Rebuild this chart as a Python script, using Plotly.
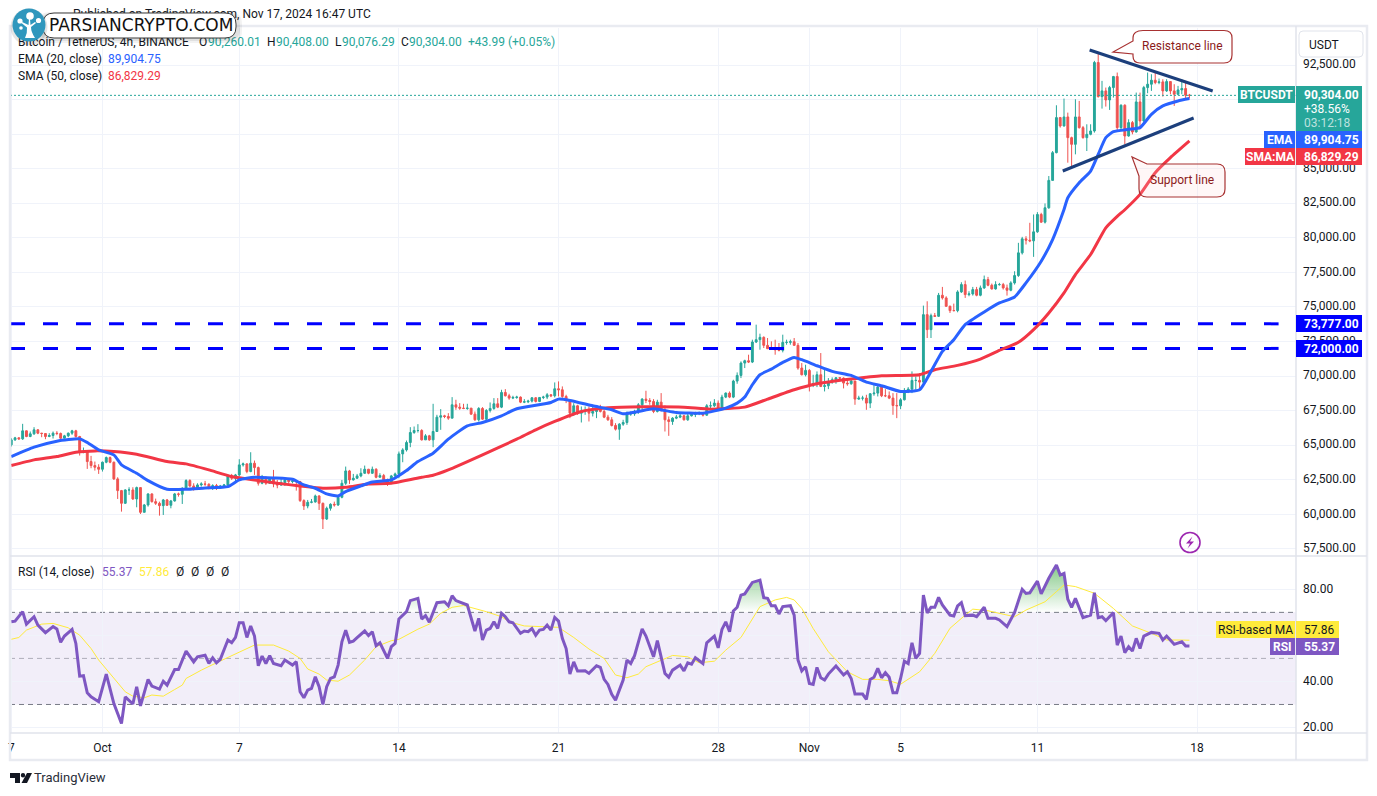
import plotly.graph_objects as go
import pandas as pd
import numpy as np

FONT = "Roboto, sans-serif"
UP, DOWN = "#26a69a", "#ef5350"
BLUE, RED = "#2962ff", "#f23645"
PURPLE, YELLOW = "#7e57c2", "#ffeb3b"
INK = "#131722"
GRID = "#f0f3fa"

closes_a = [65385,65530,65457,66037,65627,65820,66110,65868,65844,65627,65699,65868,65844,65506,65675,65868,66037,65627,64467,64540,
63815,63525,63405,63260,63767,64105,63767,62560,61714,60797,61762,61762,61110,61932,60145,60676,61473,60917,60797,60627,
61038,60652,60966,61473,61449,61883,62439,62052,61811,62125,62197,62173,61883,62077,61883,62052,62125,62777,62608,62849,
63574,63646,63091,63695,63380,62245,62680,62245,62608,62197,62125,62294,62487,62366,62415,62366,
60990,60603,60869,60893,61328,60797,59661,60434,60724,60676,61231,62245,63139,62487,62608,62777,62970,63260,62970,63260,
62680,62801,62487,62245,62777,62922,64371,64660,65192,65916,66061,66061,65385,65675,65385,65989,67027,67124,67075,66955]
highs_a = [65506,65602,65578,66544,66061,65989,66303,66158,65892,65868,65868,65989,66013,65916,65747,65916,66110,66110,65675,64830,
64588,64226,63815,63622,63815,64178,64178,63815,62680,61762,61811,61956,61956,62004,61932,60748,61521,61521,61135,60917,
61110,61110,61038,61545,61569,61956,62535,62535,62245,62245,62318,62415,62245,62173,62197,62125,62197,62873,62922,62922,
63984,63743,63695,64491,63888,63453,62849,62729,62680,63212,62487,62608,62608,62608,62560,62439,
62415,61086,61038,61110,61424,61376,60845,60555,60797,60917,61400,62487,63453,63212,62922,62922,63332,63525,63284,63453,
63332,62970,62922,62584,62849,63018,64540,64781,65337,66303,66351,66520,66158,65796,65747,67993,67196,67607,67196,67317]
lows_a = [64902,65313,65385,65385,65578,65578,65747,65796,65578,65433,65578,65482,65723,65385,65482,65578,65747,65554,64250,64419,
63284,63332,63163,62922,63091,63695,63695,62487,61110,60193,60748,61400,61038,60507,60024,60145,60555,60845,60676,59903,
59951,60603,60434,60917,61280,60748,61762,61956,61714,61762,62004,62052,61811,61762,61762,61859,61907,62052,62487,62318,
62729,63453,62970,63043,62849,62077,62173,62125,62197,61956,61883,62052,62052,62197,62245,61714,
60893,60314,60434,60797,60845,60314,58937,59589,60265,60555,60603,61159,62125,62197,62439,62560,62680,62922,62898,62922,
62608,62680,62366,62052,62197,62608,62608,63767,64540,64854,65820,65916,65337,65385,65313,64854,65989,66110,66955,66834]

closes_b = [67921,67752,67680,67656,67680,67245,66835,67656,66883,67511,67656,67994,67752,68815,68573,68404,68453,68477,68114,68139,
68187,68428,68163,68453,68477,68646,68573,69080,69008,68525,68235,67317,67849,67317,67438,67462,67317,67438,67680,67438,
67028,66835,66424,66158,66521,66641,67269,67269,67438,67921,68332,68235,68163,67438,68114,67559,66835,66714,66955,67028,
67124,66835,67124,67221,67317,67342,67173,67849,67849,68042,67680,68477,68767,68477,69636,70046,70940,71109,71012,72461,
72631,72800,72220,71978,71954,71906,71858,72437,72437,72486,72220,70578,70095,70409,69370,69443,70095,69250,69298,69612,
69733,69877,69853,69491,69443,69636,68332,68404,68404,68042,68718,68767,69201,68573,68573,68404,67873,67849,68284,68960,
69056,69684,69684,69563]
highs_b = [68477,68284,68042,67994,67994,67631,67438,67752,67752,67607,68090,68404,68404,69008,69056,68718,68573,68573,68525,68332,
68284,68477,68477,68477,68573,68767,68694,69539,69612,69250,68646,68284,68042,67921,67801,67801,67801,67801,67801,67921,
67559,67197,67028,66593,66593,66835,67438,67438,67559,68042,68404,68936,68404,68332,68284,68767,67873,67076,67028,67197,
67269,67197,67269,67317,67414,67438,67366,67970,68163,68332,68235,68646,68815,68887,69733,70264,71061,71182,71544,72631,
73717,73065,72872,72751,72510,72631,72389,72993,72631,72631,72751,72389,70940,70819,70505,70095,70336,71665,70578,69853,
69902,69926,69902,69902,69853,69781,69539,68573,68573,68646,68767,69370,69443,69298,69056,68887,68767,68767,68404,69129,
69201,70336,69974,70215]
lows_b = [66955,67559,67559,67607,67559,67197,66762,66714,66835,66786,67366,67559,67680,67680,68525,68284,68332,68356,68042,68042,
68042,68090,68090,68114,68332,68332,68477,68453,68525,68428,68042,66955,67124,67197,66641,67197,66714,67076,66955,67366,
66955,66762,66352,66062,65386,66400,66472,67124,67124,67269,67559,68042,67921,67317,67366,67438,65989,65675,66472,66883,
66955,66786,66762,67076,67028,67173,67076,67124,67680,67752,67511,67607,68404,68404,68404,69443,69853,70578,70940,70940,
72389,71906,72027,71954,71906,71544,71785,71713,72268,72268,72196,70457,70046,69974,68887,69201,69201,69201,68887,69056,
69443,69443,69733,69105,69298,69370,67921,68284,68235,67559,67680,68573,68525,68477,68477,68332,67197,66955,67607,68235,
68767,68767,69008,69008]

closes_c = [74443,73357,74371,74323,75844,75651,75047,74733,74733,76085,76617,75892,75941,76255,75844,76375,76979,76568,76303,76617,
76617,76375,76206,76738,77269,78911,79925,79829,79780,80432,81688,81133,82171,84153,86158,88694,88090,88742,87245,86762,
88742,87969,87245,87486,87728,92679,90215,90626,89974,90867,91664,87969,89587,87365,88332,87655,89829,88452,90867,91109,
91399,91230,91278,90626,91302,90626,90384,90698,90795,90312,90304]
highs_c = [75095,75409,74516,74564,76013,76448,75771,75095,75240,76206,76786,76907,76134,76448,76448,76544,77269,77172,76689,76858,
76738,76738,76617,76858,77583,79636,80070,80119,81085,81688,81857,81809,82485,84468,86279,89587,88742,90070,89056,87317,
90022,89901,88090,88211,88211,92799,93451,91350,90867,90988,91713,91954,89660,89660,88573,88452,90505,90505,90988,91954,
91833,91954,91519,91471,91471,91302,91109,90988,91471,91350,90408]
lows_c = [69372,72753,72753,74274,74274,75530,74999,74564,74685,74612,76013,75651,75771,75820,75771,75771,76303,76496,76255,76255,
76544,76255,75820,76134,76617,77172,78790,79515,79684,78621,80360,81085,81036,82099,84153,86110,87969,88042,85434,85192,
86037,87897,87172,86279,87414,87607,90143,89346,89491,89249,90143,87728,87849,86762,87317,87486,87607,87849,88380,90457,
90626,91109,91109,90215,90553,90384,89539,90312,90384,90022,90076]

first_open = 65023
closes = closes_a + closes_b + closes_c
highs = highs_a + highs_b + highs_c
lows = lows_a + lows_b + lows_c

ema_index = [0,6,12,18,20,23,27,29,33,36,41,46,51,57,60,64,69,74,77,80,83,86,88,92,95,100,104,107,111,115,120,124,129,133,142,144,147,153,158,161,165,169,175,182,188,191,193,195,197,200,203,206,208,212,216,221,225,229,234,239,242,245,248,251,256,260,264,267,271,274,277,278,281,284,286,288,290,294,297,300,303,307,310]
ema_values = [64178,64854,65288,65457,65192,64660,64298,63574,62970,62439,61811,61811,61907,62004,62487,62680,62632,62535,62125,61883,61473,61328,61642,62052,62342,62487,63163,63815,64419,65433,66400,66641,67124,67632,68090,68332,68235,67849,67559,67269,67438,67632,67366,67317,67680,68042,68477,69370,70095,70505,70988,71351,71182,70747,70336,70046,69563,69298,68887,69008,70338,71787,72632,73719,74636,75289,75723,76738,78307,79877,82051,82898,83984,84830,86037,87245,87680,87849,87969,88935,89539,89901,90070]
sma_index = [0,6,12,17,22,27,33,41,46,52,58,64,70,76,82,88,94,100,108,111,115,124,133,138,143,150,157,166,177,184,193,199,206,212,221,229,239,243,249,255,260,265,269,273,277,280,284,288,291,293,297,301,305,310]
sma_values = [63525,63936,64178,64491,64588,64540,64347,63815,63646,63212,62729,62487,62245,62052,61883,61956,62197,62245,62680,62825,63212,64300,65434,66110,66714,67438,67704,67776,67752,67607,67752,68332,69008,69443,69781,70022,70096,70459,70772,71231,71859,72439,73357,74564,76013,77341,78790,80722,81550,82030,83139,84709,85796,87003]

rsi_index = [0,1,3,4,6,7,9,11,12,13,14,16,17,18,19,20,21,23,25,27,29,30,32,33,34,36,37,39,40,41,43,44,46,48,49,51,52,53,54,55,57,58,59,60,61,62,63,64,65,66,67,68,69,71,72,74,75,76,77,78,79,80,81,82,83,84,85,86,87,88,89,90,91,93,94,95,96,97,99,100,101,102,104,105,107,108,109,110,112,114,115,116,117,119,120,122,123,124,125,126,127,128,129,130,131,132,134,135,136,137,138,139,140,141,142,143,144,145,146,147,148,149,151,152,154,155,156,157,158,159,161,162,163,164,166,167,169,170,171,172,173,174,176,177,178,179,180,182,183,185,186,187,188,189,190,191,192,193,195,197,198,199,200,201,202,203,205,206,207,208,209,210,211,212,213,214,215,217,219,220,221,222,224,225,226,227,228,229,230,231,232,233,234,235,236,237,238,239,240,241,242,243,244,245,247,248,249,250,251,253,254,256,257,259,260,262,264,266,267,268,270,271,273,275,276,277,278,279,280,282,284,285,286,287,288,290,291,292,293,294,295,296,297,298,300,302,303,304,306,308,309,310]
rsi_values = [65.9,66.2,70.3,64.9,68.1,64.5,61.2,63.8,62.8,57.0,59.7,62.6,56.5,42.3,42.5,35.1,33.3,31.2,43.2,30.4,21.7,33.3,30.2,37.7,29.4,40.9,38.0,36.7,40.1,38.4,45.2,45.2,53.2,48.5,50.7,51.4,47.8,50.3,48.1,49.6,58.0,56.8,59.1,65.5,65.5,59.1,64.1,59.7,46.8,51.0,47.8,51.2,47.8,46.8,49.3,47.1,48.6,35.5,32.9,36.2,37.0,42.0,37.7,30.0,37.7,41.3,42.0,47.1,57.2,62.3,57.0,57.5,59.0,61.9,59.9,61.6,55.5,56.8,50.0,55.1,56.5,67.1,70.3,75.1,76.1,67.1,68.6,65.7,74.2,74.6,72.9,77.2,75.1,73.6,73.2,61.9,67.4,58.0,62.3,63.0,65.9,63.0,69.6,68.1,65.9,65.5,60.9,61.9,61.6,63.0,60.1,62.3,62.6,64.5,62.3,67.8,66.2,58.7,54.3,43.2,48.5,44.5,44.6,43.5,46.8,46.1,40.9,38.7,34.4,31.9,40.6,49.3,47.8,51.2,62.8,59.7,50.7,57.7,50.7,43.5,41.8,44.9,47.1,44.6,48.1,47.5,50.3,47.8,56.8,59.7,54.6,62.6,65.9,61.6,70.6,72.2,77.5,78.0,83.0,84.0,76.4,76.1,72.9,72.9,69.3,72.5,72.9,68.8,49.3,44.6,46.4,39.1,38.7,46.1,41.6,40.6,43.2,46.7,42.8,44.2,41.3,34.5,34.5,32.2,40.9,41.8,45.7,41.6,43.8,41.8,35.1,35.1,41.3,48.8,47.8,56.8,50.0,52.2,77.5,69.8,72.2,72.2,76.5,73.2,68.8,68.4,72.8,74.2,68.6,68.8,68.1,72.2,67.4,67.4,66.7,63.8,70.0,80.0,78.2,78.5,83.6,78.0,84.8,90.6,86.2,86.9,75.7,72.2,76.1,67.7,68.8,78.5,67.7,68.1,66.4,69.9,55.8,59.7,52.5,55.1,53.2,58.7,54.3,59.7,61.3,60.9,58.0,59.7,56.1,57.2,55.4,55.37]
rsi_ma_index = [0,2,4,8,11,15,18,21,23,26,30,32,35,37,40,43,45,46,50,54,59,64,69,73,76,78,81,83,86,89,93,96,100,102,107,110,113,116,119,122,125,129,131,135,140,144,148,152,156,159,162,165,167,171,174,178,181,185,188,192,195,197,201,204,206,208,211,215,220,224,228,231,234,239,243,247,251,253,257,260,264,267,272,275,277,280,285,290,295,300,304,307,310]
rsi_ma_values = [58.3,59.1,62.3,64.9,65.2,63.3,60.1,54.3,49.3,43.5,35.5,33.6,32.9,34.1,33.6,36.5,38.4,41.3,44.9,48.1,51.9,55.8,55.8,53.2,50.0,45.4,43.2,40.6,40.1,42.8,49.3,55.1,57.7,58.3,62.7,64.9,69.6,72.2,73.0,71.7,70.3,68.1,65.9,64.1,63.8,63.5,59.1,54.1,50.0,42.8,41.6,43.2,46.4,49.3,51.3,50.7,48.1,48.8,53.6,59.1,67.4,72.5,75.4,76.5,75.4,71.7,63.0,52.9,44.2,40.9,40.9,40.3,38.8,44.2,52.2,63.1,68.8,71.4,70.7,69.6,68.1,71.0,74.6,79.0,81.9,81.2,78.3,71.7,64.1,60.9,58.0,58.0,57.9]

price_levels = [73777, 72000]
resistance_x = ["2024-11-13 06:58", "2024-11-18 16:30"]
resistance_y = [93584, 90618]
support_x = ["2024-11-12 02:40", "2024-11-17 20:24"]
support_y = [84832, 88666]
last_price = 90304
price_ticks = [57500,60000,62500,65000,67500,70000,72500,75000,77500,80000,82500,85000,87500,90000,92500]
price_tick_labels = ["57,500.00","60,000.00","62,500.00","65,000.00","67,500.00","70,000.00","72,500.00","75,000.00","77,500.00","80,000.00","82,500.00","85,000.00","","","92,500.00"]
rsi_ticks = [20, 40, 60, 80]
rsi_tick_labels = ["20.00", "40.00", "", "80.00"]
date_ticks = ["2024-09-27","2024-10-01","2024-10-07","2024-10-14","2024-10-21","2024-10-28","2024-11-01","2024-11-05","2024-11-11","2024-11-18"]
date_labels = ["7","Oct","7","14","21","28","Nov","5","11","18"]

X_LEFT, X_RIGHT, X_DASH_END = "2024-09-26 22:41", "2024-11-22 08:10", "2024-11-21 13:50"
W, H = 1377, 796

times = pd.date_range("2024-09-27 00:00", periods=len(closes), freq="4h")
opens = [first_open] + closes[:-1]
highs_c2 = np.maximum(np.maximum(highs, closes), opens).tolist()
lows_c2 = np.minimum(np.minimum(lows, closes), opens).tolist()

fig = go.Figure()

# ---- price pane ----
fig.add_trace(go.Candlestick(x=times, open=opens, high=highs_c2, low=lows_c2, close=closes,
    xaxis="x", yaxis="y", whiskerwidth=0, hoverinfo="skip",
    increasing=dict(line=dict(color=UP, width=1), fillcolor=UP),
    decreasing=dict(line=dict(color=DOWN, width=1), fillcolor=DOWN), showlegend=False))
for lv in price_levels:
    fig.add_trace(go.Scatter(x=[X_LEFT, X_DASH_END], y=[lv, lv], mode="lines", xaxis="x", yaxis="y",
        line=dict(color="#0000ff", width=3, dash="15px,18px"), hoverinfo="skip", showlegend=False))
fig.add_trace(go.Scatter(x=[X_LEFT, X_RIGHT], y=[last_price, last_price], mode="lines", xaxis="x", yaxis="y",
    line=dict(color=UP, width=1, dash="2px,2px"), hoverinfo="skip", showlegend=False))
fig.add_trace(go.Scatter(x=times[sma_index], y=sma_values, mode="lines", xaxis="x", yaxis="y",
    line=dict(color=RED, width=3, shape="spline", smoothing=0.5), hoverinfo="skip", showlegend=False))
fig.add_trace(go.Scatter(x=times[ema_index], y=ema_values, mode="lines", xaxis="x", yaxis="y",
    line=dict(color=BLUE, width=3, shape="spline", smoothing=0.5), hoverinfo="skip", showlegend=False))
for xs, ys in ((resistance_x, resistance_y), (support_x, support_y)):
    fig.add_trace(go.Scatter(x=xs, y=ys, mode="lines", xaxis="x", yaxis="y",
        line=dict(color="#1c3f7c", width=3), hoverinfo="skip", showlegend=False))

# ---- RSI pane ----
rsi_times = times[rsi_index]
rsi_over = np.maximum(rsi_values, 70).tolist()
fig.add_trace(go.Scatter(x=rsi_times, y=[70] * len(rsi_index), mode="lines", xaxis="x2", yaxis="y2",
    line=dict(width=0), hoverinfo="skip", showlegend=False))
fig.add_trace(go.Scatter(x=rsi_times, y=rsi_over, mode="lines", xaxis="x2", yaxis="y2", fill="tonexty",
    line=dict(width=0), hoverinfo="skip", showlegend=False,
    fillgradient=dict(type="vertical", start=70, stop=88,
                      colorscale=[[0, "rgba(76,175,80,0)"], [1, "rgba(76,175,80,0.6)"]])))
fig.add_trace(go.Scatter(x=times[rsi_ma_index], y=rsi_ma_values, mode="lines", xaxis="x2", yaxis="y2",
    line=dict(color=YELLOW, width=1), hoverinfo="skip", showlegend=False))
fig.add_trace(go.Scatter(x=rsi_times, y=rsi_values, mode="lines", xaxis="x2", yaxis="y2",
    line=dict(color=PURPLE, width=3), hoverinfo="skip", showlegend=False))

# ---- text beneath the logo and legend rows (pixel overlay axes) ----
legend_bits = [
    (73, 15, "Published on TradingView.com, Nov 17, 2024 16:47 UTC", INK, 12),
    (18, 43, "Bitcoin / TetherUS, 4h, BINANCE", INK, 12),
    (199, 43, "O", INK, 12), (208, 43, "90,260.01", UP, 12),
    (267, 43, "H", INK, 12), (276, 43, "90,408.00", UP, 12),
    (335, 43, "L", INK, 12), (342, 43, "90,076.29", UP, 12),
    (401, 43, "C", INK, 12), (409, 43, "90,304.00", UP, 12),
    (468, 43, "+43.99 (+0.05%)", UP, 12),
    (18, 60, "EMA (20, close)", INK, 12), (108, 60, "89,904.75", BLUE, 12),
    (18, 77, "SMA (50, close)", INK, 12), (108, 77, "86,829.29", RED, 12),
    (18, 573, "RSI (14, close)", INK, 12), (102, 573, "55.37", PURPLE, 12), (139, 573, "57.86", YELLOW, 12),
    (176, 573, "Ø", INK, 12), (191, 573, "Ø", INK, 12), (206, 573, "Ø", INK, 12), (221, 573, "Ø", INK, 12),
    (34, 779, "TradingView", "#2a2e39", 13),
]
fig.add_trace(go.Scatter(x=[b[0] for b in legend_bits], y=[b[1] for b in legend_bits],
    text=[b[2] for b in legend_bits], mode="text", textposition="middle right",
    textfont=dict(family=FONT, size=[b[4] for b in legend_bits], color=[b[3] for b in legend_bits]),
    xaxis="x3", yaxis="y3", hoverinfo="skip", showlegend=False, cliponaxis=False))

shapes = []
def rect(x0, y0, x1, y1, fill, line="rgba(0,0,0,0)", lw=0):
    shapes.append(dict(type="rect", xref="x3", yref="y3", x0=x0, y0=y0, x1=x1, y1=y1,
                       fillcolor=fill, line=dict(color=line, width=lw), layer="above"))
def path(d, fill="rgba(0,0,0,0)", line="rgba(0,0,0,0)", lw=0):
    shapes.append(dict(type="path", xref="x3", yref="y3", path=d, fillcolor=fill,
                       line=dict(color=line, width=lw), layer="above"))
def rrect(x0, y0, x1, y1, r):
    return (f"M{x0+r},{y0} L{x1-r},{y0} Q{x1},{y0} {x1},{y0+r} L{x1},{y1-r} Q{x1},{y1} {x1-r},{y1} "
            f"L{x0+r},{y1} Q{x0},{y1} {x0},{y1-r} L{x0},{y0+r} Q{x0},{y0} {x0+r},{y0} Z")
def circle(cx, cy, r, fill="rgba(0,0,0,0)", line="rgba(0,0,0,0)", lw=0):
    shapes.append(dict(type="circle", xref="x3", yref="y3", x0=cx-r, y0=cy-r, x1=cx+r, y1=cy+r,
                       fillcolor=fill, line=dict(color=line, width=lw), layer="above"))

# RSI band and guide lines
shapes.append(dict(type="rect", xref="x2", yref="y2", x0=X_LEFT, x1=X_RIGHT, y0=30, y1=70,
                   fillcolor="rgba(126,87,194,0.1)", line=dict(width=0), layer="below"))
for lv, col in ((70, "#787b86"), (50, "rgba(120,123,134,0.55)"), (30, "#787b86")):
    shapes.append(dict(type="line", xref="x2", yref="y2", x0=X_LEFT, x1=X_RIGHT, y0=lv, y1=lv,
                       line=dict(color=col, width=1, dash="5px,4px"), layer="below"))

# frame
FRAME = "#e9ebf1"
rect(10, 26, 1367, 760, "rgba(0,0,0,0)", FRAME, 2.5)
for x0, y0, x1, y1 in ((10, 556, 1367, 556), (10, 733, 1367, 733), (1296, 26, 1296, 760)):
    shapes.append(dict(type="line", xref="x3", yref="y3", x0=x0, y0=y0, x1=x1, y1=y1,
                       line=dict(color="#e0e3eb", width=1.5), layer="above"))

# right-hand price tags
rect(1238, 86, 1295, 103, UP); rect(1296, 86, 1362, 131, UP)
rect(1264, 131, 1295, 148, BLUE); rect(1296, 131, 1362, 148, BLUE)
rect(1245, 148, 1295, 165, RED); rect(1296, 148, 1362, 165, RED)
rect(1296, 315, 1362, 332, "#0000ff"); rect(1296, 340, 1362, 357, "#0000ff")
rect(1216, 621, 1295, 638, YELLOW); rect(1296, 621, 1339, 638, YELLOW)
rect(1270, 638, 1295, 655, PURPLE); rect(1296, 638, 1339, 655, PURPLE)
path(rrect(1299, 31, 1363, 57, 4), "#ffffff", "#e0e3eb", 1)

# callouts
STROKE = "#a83232"
path("M1143,30.5 L1224,30.5 Q1232,30.5 1232,38 L1232,55 Q1232,63 1224,63 L1140,63 Q1133,63 1133,56 "
     "L1133,54 L1113,52 L1133,41 L1133,38 Q1133,30.5 1143,30.5 Z", "rgba(255,255,255,0.9)", STROKE, 1.2)
path("M1150,164 L1217,164 Q1225,164 1225,172 L1225,189 Q1225,197 1217,197 L1147,197 Q1139,197 1139,189 "
     "L1139,176 L1132,157 L1147,164 Z", "rgba(255,210,210,0.18)", STROKE, 1.2)

# bolt badge
circle(1190, 542.5, 10, "rgba(255,255,255,0)", "#9c27b0", 1.6)
path("M1192.5,536.5 L1186,543.5 L1190,543.5 L1187.5,548.5 L1194,541.5 L1190,541.5 Z", "#9c27b0")

# TradingView mark
path("M10,773 L20,773 L20,783 L15,783 L15,778 L10,778 Z", "#131722")
circle(23, 775.3, 2.2, "#131722")
path("M27,773 L32,773 L27,783 L21.5,783 Z", "#131722")

# watermark
path(rrect(38, 12, 242, 43, 12), "rgba(0,0,0,0.05)")
path(rrect(40, 13, 240, 41, 12), "rgba(0,0,0,0.07)")
path(rrect(43, 13, 236, 38, 11), "#ffffff", "#3c3c3c", 1)
circle(29, 27, 18.5, "rgba(0,0,0,0.10)")
circle(29, 25, 16.5, "#2f97bd")
circle(30, 16, 3.8, "#ffffff"); circle(20, 21, 2.6, "#ffffff"); circle(38.5, 20.5, 2.6, "#ffffff"); circle(21, 28, 1.8, "#ffffff")
path("M25,38 L35,38 Q31,32 31,27 L36,23 L35,22 L30.5,25 L30,19 L29,19 L28.5,25 L22,22 L21.5,23 L27,27.5 Q27.5,33 25,38 Z", "#ffffff")

annotations = []
def note(x, y, text, color="#ffffff", size=12, anchor="left", bold=False):
    annotations.append(dict(xref="x3", yref="y3", x=x, y=y, text=f"<b>{text}</b>" if bold else text,
        showarrow=False, xanchor=anchor, yanchor="middle", align=anchor, borderpad=0,
        font=dict(family=FONT, size=size, color=color)))
note(48, 25, "PARSIANCRYPTO.COM", "#111111", 17)
annotations[-1]["font"]["family"] = "DejaVu Sans"
note(1266.5, 94.5, "BTCUSDT", anchor="center", bold=True)
note(1303, 94.5, "90,304.00", bold=True)
note(1303, 108.5, "+38.56%")
note(1303, 122.5, "03:12:18", "rgba(255,255,255,0.7)")
note(1279.5, 139.5, "EMA", anchor="center", bold=True)
note(1303, 139.5, "89,904.75", bold=True)
note(1270, 156.5, "SMA:MA", anchor="center", bold=True)
note(1303, 156.5, "86,829.29", bold=True)
note(1303, 323.5, "73,777.00", bold=True)
note(1303, 348.5, "72,000.00", bold=True)
note(1255.5, 629.5, "RSI-based MA", INK, anchor="center")
note(1303, 629.5, "57.86", INK)
note(1282.5, 646.5, "RSI", anchor="center", bold=True)
note(1303, 646.5, "55.37", bold=True)
note(1308, 44.5, "USDT", INK)
note(1182, 46, "Resistance line", "#8b1a1a", anchor="center")
note(1182, 180, "Support line", "#8b1a1a", anchor="center")

common_x = dict(type="date", range=[X_LEFT, X_RIGHT], showgrid=True, gridcolor=GRID, gridwidth=1,
                tickmode="array", tickvals=date_ticks, ticktext=date_labels, zeroline=False,
                showline=False, ticks="", rangeslider=dict(visible=False), fixedrange=True)

fig.update_layout(
    width=W, height=H, autosize=False, margin=dict(l=0, r=0, t=0, b=0, autoexpand=False),
    paper_bgcolor="#ffffff", plot_bgcolor="rgba(0,0,0,0)", showlegend=False, hovermode=False,
    font=dict(family=FONT, size=12, color=INK),
    xaxis=dict(domain=[10 / W, 1296 / W], anchor="y", showticklabels=False, **common_x),
    xaxis2=dict(domain=[10 / W, 1296 / W], anchor="y2", showticklabels=True, matches="x",
                tickfont=dict(family=FONT, size=12, color=INK), ticklabelstandoff=6, **common_x),
    yaxis=dict(domain=[1 - 556 / H, 1 - 28 / H], anchor="x", side="right", range=[56984, 95176],
               tickmode="array", tickvals=price_ticks, ticktext=price_tick_labels, showgrid=True, gridcolor=GRID,
               zeroline=False, showline=False, ticks="", ticklabelstandoff=6, ticklabelshift=-1, fixedrange=True,
               tickfont=dict(family=FONT, size=12, color=INK)),
    yaxis2=dict(domain=[1 - 733 / H, 1 - 556 / H], anchor="x2", side="right", range=[17.61, 94.48],
                tickmode="array", tickvals=rsi_ticks, ticktext=rsi_tick_labels, showgrid=True, gridcolor=GRID,
                zeroline=False, showline=False, ticks="", ticklabelstandoff=6, ticklabelshift=-1, fixedrange=True,
                tickfont=dict(family=FONT, size=12, color=INK)),
    xaxis3=dict(domain=[0, 1], anchor="y3", range=[0, W], visible=False, fixedrange=True),
    yaxis3=dict(domain=[0, 1], anchor="x3", range=[H, 0], visible=False, fixedrange=True),
    shapes=shapes, annotations=annotations,
)

fig.write_html("out.html", config=dict(displayModeBar=False),
               post_script="document.body.style.margin='0';document.documentElement.style.overflow='hidden';")
